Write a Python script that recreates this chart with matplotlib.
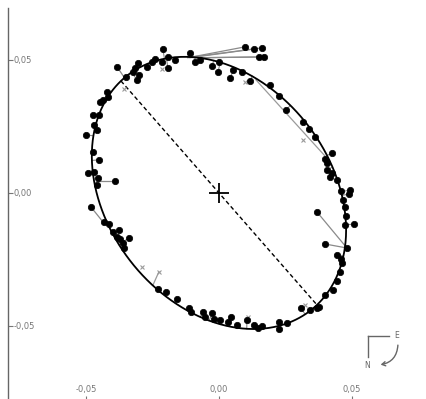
import numpy as np
import matplotlib
matplotlib.use("Agg")
import matplotlib.pyplot as plt
from matplotlib.lines import Line2D
from matplotlib.patches import FancyArrowPatch
from matplotlib.ticker import FuncFormatter

# apparent orbit (arcsec)
orbit_center = (0.0, 0.0)
orbit_semi_major = 0.0560
orbit_semi_minor = 0.0420
orbit_tilt_deg = -52.0

# line of apsides, direction through the primary
apsides_angle_deg = -48.8

# measured positions of the companion
obs_x = [-0.0350, -0.0323, -0.0316, -0.0305, -0.0301, -0.0308, -0.0271, -0.0252, -0.0241, -0.0211,
         -0.0192, -0.0214, -0.0192, -0.0165, -0.0109, -0.0090, -0.0071, -0.0026, 0.0000, -0.0004,
         0.0041, 0.0053, 0.0086, 0.0117, 0.0192, 0.0226, 0.0252, 0.0316, 0.0338, 0.0361,
         0.0425, 0.0399, 0.0406, 0.0406, 0.0425, 0.0417, 0.0444, 0.0459, 0.0493, 0.0489,
         0.0466, 0.0474, 0.0478, 0.0474, 0.0508, 0.0481, 0.0444, 0.0459, 0.0462, 0.0455,
         0.0444, 0.0429, 0.0399, 0.0376, 0.0368, 0.0342, 0.0308, 0.0256, 0.0226, 0.0226,
         0.0162, 0.0147, 0.0132, 0.0105, 0.0068, 0.0045, 0.0034, 0.0004, -0.0019, -0.0026,
         -0.0053, -0.0060, -0.0105, -0.0113, -0.0158, -0.0199, -0.0229, -0.0357, -0.0361, -0.0338,
         -0.0372, -0.0383, -0.0376, -0.0399, -0.0414, -0.0432, -0.0459, -0.0455, -0.0470, -0.0493,
         -0.0451, -0.0474, -0.0500, -0.0459, -0.0470, -0.0474, -0.0451, -0.0447, -0.0417, -0.0436,
         -0.0421]
obs_y = [0.0436, 0.0455, 0.0470, 0.0489, 0.0444, 0.0425, 0.0474, 0.0493, 0.0504, 0.0541,
         0.0511, 0.0493, 0.0470, 0.0500, 0.0526, 0.0493, 0.0500, 0.0478, 0.0493, 0.0455,
         0.0432, 0.0462, 0.0455, 0.0421, 0.0406, 0.0365, 0.0312, 0.0267, 0.0241, 0.0211,
         0.0150, 0.0128, 0.0113, 0.0086, 0.0075, 0.0060, 0.0049, 0.0008, 0.0011, -0.0004,
         -0.0026, -0.0053, -0.0086, -0.0120, -0.0117, -0.0207, -0.0233, -0.0248, -0.0263, -0.0297,
         -0.0331, -0.0365, -0.0384, -0.0429, -0.0432, -0.0440, -0.0432, -0.0489, -0.0485, -0.0511,
         -0.0500, -0.0508, -0.0496, -0.0478, -0.0496, -0.0466, -0.0485, -0.0478, -0.0474, -0.0451,
         -0.0466, -0.0447, -0.0447, -0.0432, -0.0399, -0.0372, -0.0361, -0.0207, -0.0188, -0.0169,
         -0.0173, -0.0165, -0.0139, -0.0147, -0.0117, -0.0109, 0.0030, 0.0056, 0.0079, 0.0075,
         0.0124, 0.0154, 0.0218, 0.0237, 0.0256, 0.0293, 0.0293, 0.0342, 0.0361, 0.0350,
         0.0380]

# measurements with large residuals (observed -> predicted)
out_x = [-0.0383, -0.0391, -0.0481, 0.0368, 0.0399, 0.0098, 0.0132, 0.0162, 0.0169, 0.0150]
out_y = [0.0474, 0.0045, -0.0053, -0.0071, -0.0192, 0.0549, 0.0541, 0.0545, 0.0511, 0.0511]
out_pred_x = [-0.0350, -0.0462, -0.0436, 0.0481, 0.0481, -0.0117, -0.0109, -0.0102, -0.0090, -0.0079]
out_pred_y = [0.0425, 0.0045, -0.0109, -0.0207, -0.0207, 0.0508, 0.0508, 0.0511, 0.0508, 0.0508]

# low weight measurements (small grey marks)
faint_x = [-0.0357, -0.0214, 0.0098, 0.0316, -0.0290, -0.0226, 0.0323, 0.0109]
faint_y = [0.0391, 0.0466, 0.0417, 0.0199, -0.0278, -0.0297, -0.0421, -0.0466]
faint_seg_x = [[0.0139, 0.0402], [-0.0226, -0.0248]]
faint_seg_y = [[0.0425, 0.0135], [-0.0297, -0.0346]]

TICKS = [-0.05, 0.0, 0.05]


def orbit_curve(n=720):
    t = np.linspace(0, 2 * np.pi, n)
    phi = np.radians(orbit_tilt_deg)
    ex = orbit_center[0] + orbit_semi_major * np.cos(t) * np.cos(phi) - orbit_semi_minor * np.sin(t) * np.sin(phi)
    ey = orbit_center[1] + orbit_semi_major * np.cos(t) * np.sin(phi) + orbit_semi_minor * np.sin(t) * np.cos(phi)
    return ex, ey


def apsides_ends():
    # where the apsides direction meets the ellipse (centre is on the line)
    phi = np.radians(orbit_tilt_deg)
    psi = np.radians(apsides_angle_deg) - phi
    r = 1.0 / np.sqrt((np.cos(psi) / orbit_semi_major) ** 2 + (np.sin(psi) / orbit_semi_minor) ** 2)
    dx, dy = r * np.cos(np.radians(apsides_angle_deg)), r * np.sin(np.radians(apsides_angle_deg))
    cx, cy = orbit_center
    return [cx - dx, cx + dx], [cy - dy, cy + dy]


def main():
    fig = plt.figure(figsize=(4.27, 3.99), dpi=100)
    # axes reaches just past the bottom edge, as in the cropped original
    ax = fig.add_axes([8 / 427, -2 / 399, 419 / 427, 393 / 399])
    ax.set_xlim(-0.0793, 0.0782)
    ax.set_ylim(-0.0782, 0.0695)

    ex, ey = orbit_curve()

    # residual lines to the nearest orbit position
    for x, y in zip(obs_x, obs_y):
        i = np.argmin((ex - x) ** 2 + (ey - y) ** 2)
        ax.plot([x, ex[i]], [y, ey[i]], color="#8a8a8a", lw=0.8, zorder=2)
    for x, y, px, py in zip(out_x, out_y, out_pred_x, out_pred_y):
        ax.plot([x, px], [y, py], color="#8a8a8a", lw=0.9, zorder=2)
    for sx, sy in zip(faint_seg_x, faint_seg_y):
        ax.plot(sx, sy, color="#9a9a9a", lw=0.9, zorder=2)

    ax.plot(ex, ey, color="black", lw=1.3, zorder=3)
    ax_x, ax_y = apsides_ends()
    ax.plot(ax_x, ax_y, color="black", lw=1.0, ls=(0, (3, 2)), zorder=3)
    ax.plot([0], [0], marker="+", ms=15, mew=1.3, color="black", zorder=4)

    ax.plot(obs_x, obs_y, "o", color="black", ms=4.6, mew=0.5, zorder=5)
    ax.plot(out_x, out_y, "o", color="black", ms=4.6, mew=0.5, zorder=5)
    ax.plot(faint_x, faint_y, "x", color="#9a9a9a", ms=3, mew=0.8, zorder=4)

    fmt = FuncFormatter(lambda v, _: f"{v:.2f}".replace(".", ",").replace("-0,00", "0,00"))
    ax.set_xticks(TICKS)
    ax.set_yticks(TICKS)
    ax.xaxis.set_major_formatter(fmt)
    ax.yaxis.set_major_formatter(fmt)
    ax.tick_params(axis="y", direction="in", length=3.5, width=0.8, color="#777777",
                   pad=-3.8, labelsize=6, labelcolor="#777777")
    ax.tick_params(axis="x", direction="in", length=3.5, width=0.8, color="#777777",
                   pad=-5, labelsize=6, labelcolor="#777777")
    for lab in ax.get_yticklabels():
        lab.set_horizontalalignment("left")
    for lab in ax.get_xticklabels():
        lab.set_verticalalignment("bottom")
    for side in ("top", "right", "bottom"):
        ax.spines[side].set_visible(False)
    ax.spines["left"].set_color("#666666")
    ax.spines["left"].set_linewidth(1.0)

    # compass (N down, E right)
    tf = fig.transFigure
    fig.add_artist(Line2D([0.862, 0.911], [0.158, 0.158], color="#666666", lw=1.0, transform=tf))
    fig.add_artist(Line2D([0.862, 0.862], [0.158, 0.105], color="#666666", lw=1.0, transform=tf))
    fig.text(0.930, 0.158, "E", fontsize=5.5, color="#666666", ha="center", va="center")
    fig.text(0.859, 0.083, "N", fontsize=5.5, color="#666666", ha="center", va="center")
    fig.add_artist(FancyArrowPatch((0.932, 0.142), (0.885, 0.085), transform=tf,
                                   connectionstyle="arc3,rad=-0.45", arrowstyle="->,head_length=2.5,head_width=1.5",
                                   color="#666666", lw=1.0))

    fig.savefig("out.png", dpi=100)
    plt.close(fig)


if __name__ == "__main__":
    main()
